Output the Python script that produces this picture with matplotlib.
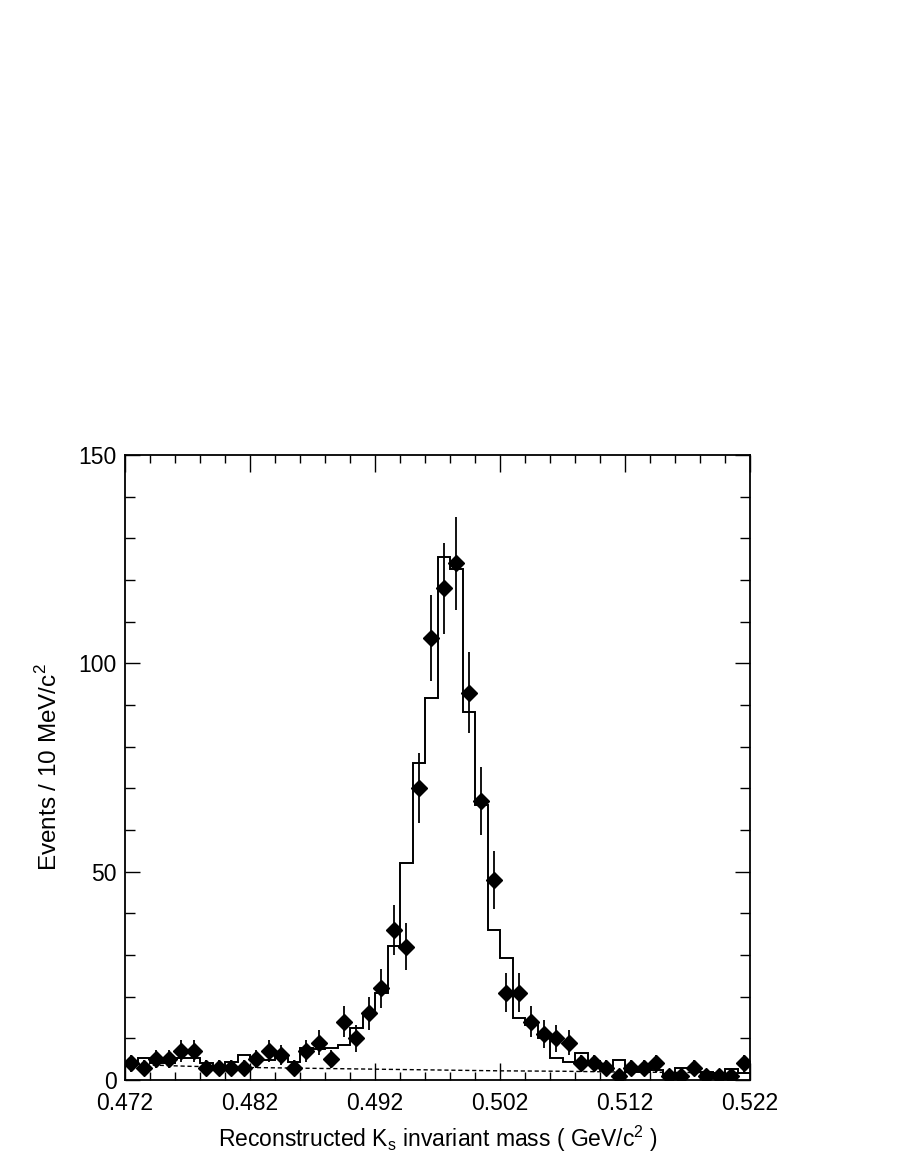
import numpy as np
import matplotlib
matplotlib.use("Agg")
import matplotlib.pyplot as plt
from matplotlib.ticker import FixedLocator

plt.rcParams['font.family'] = ['Liberation Sans', 'DejaVu Sans']
plt.rcParams['mathtext.fontset'] = 'custom'
plt.rcParams['mathtext.rm'] = 'Liberation Sans'

# bins: 50 bins of 1 MeV between 0.472 and 0.522 GeV
x_lo = 0.472
x_hi = 0.522
n_bins = 50

# data points (events per bin)
data_counts = [4, 3, 5, 5, 7, 7, 3, 3, 3, 3,
               5, 7, 6, 3, 7, 9, 5, 14, 10, 16,
               22, 36, 32, 70, 106, 118, 124, 93, 67, 48,
               21, 21, 14, 11, 10, 9, 4, 4, 3, 1,
               3, 3, 4, 1, 1, 3, 1, 1, 1, 4]

# fitted histogram (signal + background)
fit_counts = [4.2, 5.2, 4.0, 4.2, 5.2, 5.2, 4.0, 3.4, 4.4, 6.0,
              4.8, 4.8, 5.2, 4.4, 7.8, 7.4, 7.8, 8.5, 12.4, 16.1,
              20.9, 32.2, 52.2, 76.0, 91.6, 125.5, 122.6, 88.4, 66.0, 36.0,
              29.4, 14.8, 13.2, 10.0, 5.2, 4.4, 6.6, 4.6, 2.4, 4.8,
              2.0, 2.0, 2.4, 1.4, 2.8, 2.8, 2.0, 1.6, 2.6, 1.6]

# background curve (dashed)
bkg_x = [0.472, 0.477, 0.482, 0.487, 0.492, 0.497, 0.502, 0.507, 0.512, 0.517, 0.522]
bkg_y = [3.8, 3.3, 3.0, 2.8, 2.6, 2.4, 2.2, 2.1, 1.9, 1.8, 1.7]

# tick positions / labels
x_major = [0.472, 0.482, 0.492, 0.502, 0.512, 0.522]
x_labels = ['0.472', '0.482', '0.492', '0.502', '0.512', '0.522']
x_minor = np.arange(0, 26) * 0.002 + 0.472
y_major = [0, 50, 100, 150]
y_minor = np.arange(0, 16) * 10

edges = np.linspace(x_lo, x_hi, n_bins + 1)
centers = 0.5 * (edges[:-1] + edges[1:])
counts = np.array(data_counts, dtype=float)
errs = np.sqrt(counts)

fig = plt.figure(figsize=(9, 11.64), dpi=100)
ax = fig.add_axes([125/900, 84/1164, 625/900, 625/1164])

ax.stairs(fit_counts, edges, color='black', linewidth=1.4, baseline=None)
ax.plot(bkg_x, bkg_y, color='black', linestyle=(0, (3, 2)), linewidth=1.0)
ax.errorbar(centers, counts, yerr=errs, fmt='D', color='black', markersize=8,
            elinewidth=1.3, capsize=0)

ax.set_xlim(x_lo, x_hi)
ax.set_ylim(0, 150)
ax.set_xticks(x_major)
ax.set_xticklabels(x_labels)
ax.xaxis.set_minor_locator(FixedLocator(x_minor))
ax.set_yticks(y_major)
ax.yaxis.set_minor_locator(FixedLocator(y_minor))

ax.tick_params(which='both', direction='in', top=True, right=True, width=1.0)
ax.tick_params(axis='x', which='major', length=12, pad=9, labelsize=16.5)
ax.tick_params(axis='x', which='minor', length=6)
ax.tick_params(axis='y', which='major', length=11, pad=6, labelsize=16.5)
ax.tick_params(axis='y', which='minor', length=7)
for s in ax.spines.values():
    s.set_linewidth(1.3)

ax.set_xlabel(r'Reconstructed K$_\mathregular{s}$ invariant mass ( GeV/c$^\mathregular{2}$ )',
              fontsize=16.5, labelpad=6)
ax.set_ylabel(r'Events / 10 MeV/c$^\mathregular{2}$', fontsize=17.5, labelpad=12)

fig.savefig('out.png', dpi=100)
